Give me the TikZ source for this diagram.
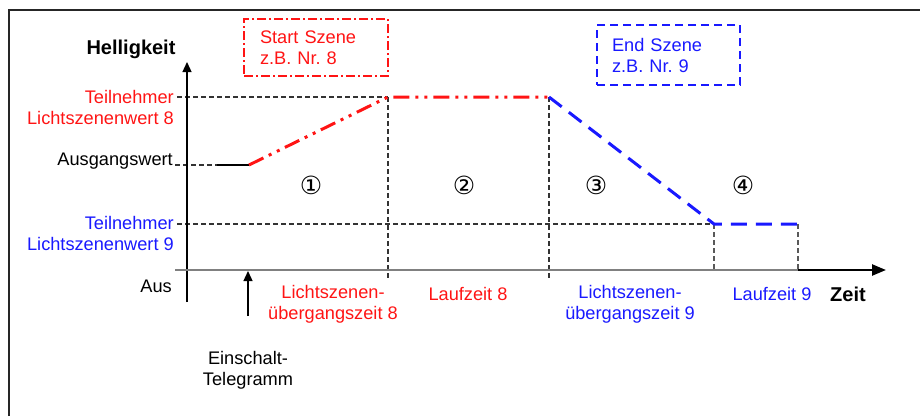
\documentclass[tikz,border=0pt]{standalone}
\usepackage{fontspec}
\setmainfont{Liberation Sans}
\newfontfamily\symfont{DejaVu Sans}
\usetikzlibrary{arrows.meta}
\definecolor{myred}{RGB}{255,20,20}
\definecolor{myblue}{RGB}{25,25,255}
\definecolor{axisgray}{RGB}{128,128,128}
\tikzset{
  lbl/.style={inner sep=0pt, align=center},
  rlbl/.style={inner sep=0pt, align=right, anchor=east},
  guide/.style={black!80, line width=1.1pt, dash pattern=on 5pt off 3pt},
  redcurve/.style={myred, line width=3pt, dash pattern=on 16pt off 6pt on 3pt off 6pt on 3pt off 6pt},
  bluecurve/.style={myblue, line width=3pt, dash pattern=on 16pt off 9pt},
  circnum/.style={inner sep=0pt, font=\symfont\fontsize{25}{25}\selectfont},
  scenebox/.style={draw, line width=1.4pt, align=left, inner ysep=0pt, minimum height=57pt}
}
\begin{document}
\frenchspacing
\begin{tikzpicture}[x=1pt,y=-1pt, font=\fontsize{18.2}{21}\selectfont]
\useasboundingbox (0,0) rectangle (920,416);
% frame
\draw[line width=2.5pt, black!85] (9,416) -- (9,10) -- (920,10);

% key points
\coordinate (ybot) at (187,302);
\coordinate (ytop) at (187,62);
\coordinate (xl) at (175,270);
\coordinate (x4) at (798,270);
\coordinate (xend) at (886,270);
\coordinate (P0) at (217,165);
\coordinate (P1) at (249,165);
\coordinate (P2) at (388,97);
\coordinate (P3) at (549,97);
\coordinate (P4) at (714,224);
\coordinate (P5) at (798,224);
\coordinate (g8) at (177,97);
\coordinate (ga) at (175,165);
\coordinate (g9) at (177,224);
\coordinate (v2b) at (388,278);
\coordinate (v3b) at (549,278);
\coordinate (v4b) at (714,270);
\coordinate (v5b) at (798,270);
\coordinate (ebot) at (248,316);
\coordinate (etop) at (248,271);

% guides
\draw[guide] (g8) -- (P2);
\draw[guide] (ga) -- (P0);
\draw[guide] (g9) -- (P4);
\draw[guide] (P2) -- (v2b);
\draw[guide] (P3) -- (v3b);
\draw[guide, black!65] (P4) -- (v4b);
\draw[guide, black!65] (P5) -- (v5b);

% axes
\draw[line width=1.3pt, -{Triangle[length=10pt,width=9pt]}] (ybot) -- (ytop);
\draw[axisgray, line width=2.2pt] (xl) -- (x4);
\draw[line width=2.4pt, -{Triangle[length=14pt,width=11pt]}] (x4) -- (xend);
\draw[line width=1.3pt, -{Triangle[length=10pt,width=9pt]}] (ebot) -- (etop);

% curves
\draw[line width=2.5pt] (P0) -- (P1);
\draw[redcurve] (P1) -- (P2) -- (P3);
\draw[bluecurve] (P3) -- (P4) -- (P5);

% labels
\node[lbl, font=\bfseries\fontsize{20}{21}\selectfont] (hell) at (131,49) {Helligkeit};
\node[lbl, font=\bfseries\fontsize{20}{21}\selectfont] (zeit) at (848,294) {Zeit};
\node[rlbl, text=myred] (l8) at (174,107.5) {Teilnehmer\\Lichtszenenwert 8};
\node[rlbl] (aw) at (173,161) {Ausgangswert};
\node[rlbl, text=myblue] (l9) at (174,233) {Teilnehmer\\Lichtszenenwert 9};
\node[rlbl] (aus) at (172,286) {Aus};

\node[scenebox, myred, dash pattern=on 9pt off 3pt on 2pt off 3pt, text width=112pt, inner xsep=16pt] (start) at (316,47.5) {Start Szene\\z.B. Nr. 8};
\node[scenebox, myblue, dash pattern=on 8pt off 5pt, text width=113pt, inner xsep=15pt, minimum height=60pt] (end) at (668.5,55) {End Szene\\z.B. Nr. 9};

\node[circnum] (c1) at (311,185) {①};
\node[circnum] (c2) at (464,185) {②};
\node[circnum] (c3) at (596,185) {③};
\node[circnum] (c4) at (743,185) {④};

\node[lbl, text=myred] (t1) at (333,304) {Lichtszenen-\\übergangszeit 8};
\node[lbl, text=myred] (t2) at (468,294) {Laufzeit 8};
\node[lbl, text=myblue] (t3) at (630,304) {Lichtszenen-\\übergangszeit 9};
\node[lbl, text=myblue] (t4) at (772,294) {Laufzeit 9};
\node[lbl] (ein) at (248,370) {Einschalt-\\Telegramm};
\end{tikzpicture}
\end{document}
